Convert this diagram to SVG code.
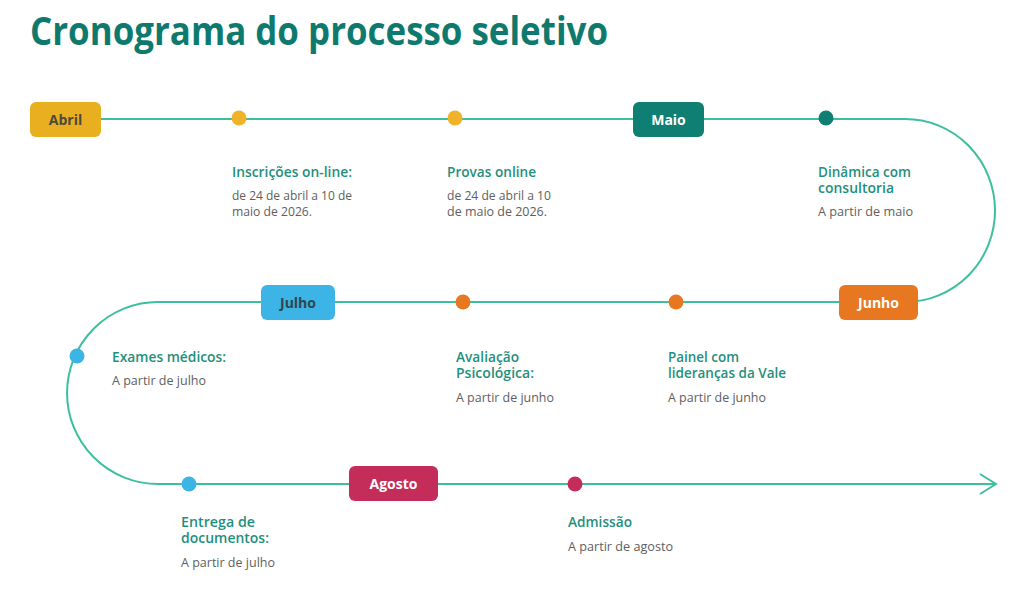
<svg xmlns="http://www.w3.org/2000/svg" width="1024" height="602" viewBox="0 0 1024 602">
<defs>
<style>
.title{font-family:"Open Sans","Noto Sans",sans-serif;font-weight:700;font-size:40px;fill:#0e7a6e}
.lbl{font-family:"Open Sans","Noto Sans",sans-serif;font-weight:600;font-size:13.5px;fill:#1f8f7e}
.desc{font-family:"Open Sans","Noto Sans",sans-serif;font-weight:400;font-size:12px;fill:#5e5e5e}
.mon{font-family:"Open Sans","Noto Sans",sans-serif;font-weight:700;font-size:14px;text-anchor:middle}
.line{fill:none;stroke:#3dbf9e;stroke-width:2}
</style>
</defs>
<rect width="1024" height="602" fill="#ffffff"/>
<text class="title" x="30" y="45" textLength="578" lengthAdjust="spacingAndGlyphs">Cronograma do processo seletivo</text>

<g id="connectors">
<path class="line" d="M 100,119 H 905 A 90 91.5 0 0 1 905,302 H 158 A 91 91 0 0 0 158,484 H 995"/>
<path class="line" d="M 980,474 L 996,484 L 980,494"/>
</g>

<g id="abril"><rect x="30" y="102" width="71" height="35" rx="6" fill="#e8b020"/><text class="mon" x="65.5" y="124.5" fill="#4d4a3c">Abril</text></g>
<g id="maio"><rect x="633" y="102" width="71" height="35" rx="6" fill="#0f7f73"/><text class="mon" x="668.5" y="124.5" fill="#ffffff">Maio</text></g>
<g id="junho"><rect x="839" y="285" width="79" height="35" rx="6" fill="#e87722"/><text class="mon" x="878.5" y="307.5" fill="#ffffff">Junho</text></g>
<g id="julho"><rect x="261" y="285" width="74" height="35" rx="6" fill="#3cb4e5"/><text class="mon" x="298" y="307.5" fill="#2f4650">Julho</text></g>
<g id="agosto"><rect x="349" y="466" width="89" height="35" rx="6" fill="#c42d5a"/><text class="mon" x="393.5" y="489" fill="#ffffff">Agosto</text></g>

<g id="inscricoes">
<circle cx="239" cy="118" r="7.5" fill="#efb32a"/>
<text class="lbl" x="232" y="177" textLength="120" lengthAdjust="spacingAndGlyphs">Inscrições on-line:</text>
<text class="desc" x="232" y="200" textLength="120" lengthAdjust="spacingAndGlyphs">de 24 de abril a 10 de</text>
<text class="desc" x="232" y="216" textLength="80" lengthAdjust="spacingAndGlyphs">maio de 2026.</text>
</g>
<g id="provas">
<circle cx="455" cy="118" r="7.5" fill="#efb32a"/>
<text class="lbl" x="447" y="177" textLength="89" lengthAdjust="spacingAndGlyphs">Provas online</text>
<text class="desc" x="447" y="200" textLength="104" lengthAdjust="spacingAndGlyphs">de 24 de abril a 10</text>
<text class="desc" x="447" y="216" textLength="100" lengthAdjust="spacingAndGlyphs">de maio de 2026.</text>
</g>
<g id="dinamica">
<circle cx="826" cy="118" r="7.5" fill="#0f7f73"/>
<text class="lbl" x="818" y="177" textLength="93" lengthAdjust="spacingAndGlyphs">Dinâmica com</text>
<text class="lbl" x="818" y="193" textLength="76" lengthAdjust="spacingAndGlyphs">consultoria</text>
<text class="desc" x="818" y="216" textLength="95" lengthAdjust="spacingAndGlyphs">A partir de maio</text>
</g>
<g id="painel">
<circle cx="676" cy="302" r="7.5" fill="#e87722"/>
<text class="lbl" x="668" y="362" textLength="71" lengthAdjust="spacingAndGlyphs">Painel com</text>
<text class="lbl" x="668" y="378" textLength="118" lengthAdjust="spacingAndGlyphs">lideranças da Vale</text>
<text class="desc" x="668" y="402" textLength="98" lengthAdjust="spacingAndGlyphs">A partir de junho</text>
</g>
<g id="avaliacao">
<circle cx="463" cy="302" r="7.5" fill="#e87722"/>
<text class="lbl" x="456" y="362" textLength="63" lengthAdjust="spacingAndGlyphs">Avaliação</text>
<text class="lbl" x="456" y="378" textLength="78" lengthAdjust="spacingAndGlyphs">Psicológica:</text>
<text class="desc" x="456" y="402" textLength="98" lengthAdjust="spacingAndGlyphs">A partir de junho</text>
</g>
<g id="exames">
<circle cx="77" cy="356" r="7.5" fill="#3cb4e5"/>
<text class="lbl" x="112" y="362" textLength="114" lengthAdjust="spacingAndGlyphs">Exames médicos:</text>
<text class="desc" x="112" y="385" textLength="94" lengthAdjust="spacingAndGlyphs">A partir de julho</text>
</g>
<g id="entrega">
<circle cx="189" cy="484" r="7.5" fill="#3cb4e5"/>
<text class="lbl" x="181" y="527" textLength="74" lengthAdjust="spacingAndGlyphs">Entrega de</text>
<text class="lbl" x="181" y="543" textLength="88" lengthAdjust="spacingAndGlyphs">documentos:</text>
<text class="desc" x="181" y="567" textLength="94" lengthAdjust="spacingAndGlyphs">A partir de julho</text>
</g>
<g id="admissao">
<circle cx="575" cy="484" r="7.5" fill="#c42d5a"/>
<text class="lbl" x="568" y="527" textLength="64" lengthAdjust="spacingAndGlyphs">Admissão</text>
<text class="desc" x="568" y="551" textLength="105" lengthAdjust="spacingAndGlyphs">A partir de agosto</text>
</g>
</svg>
